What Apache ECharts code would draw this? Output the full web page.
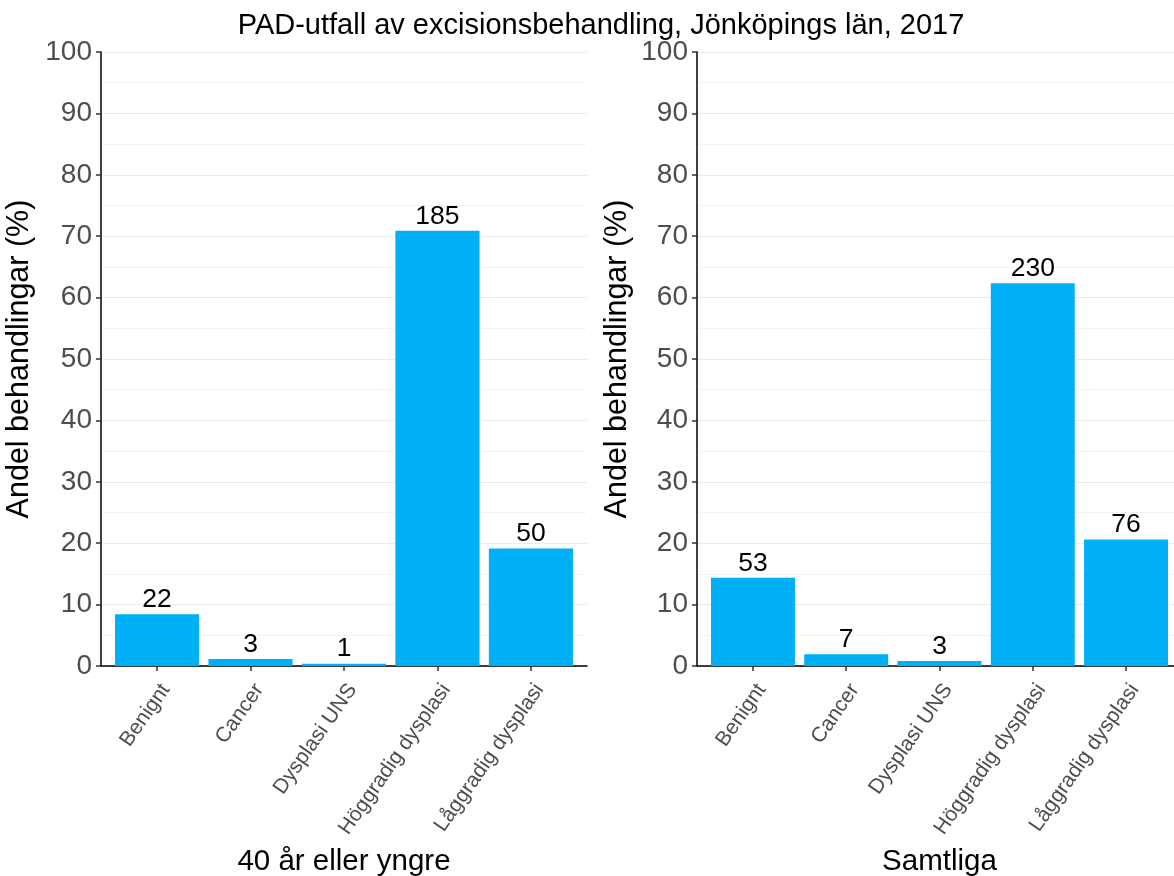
<!DOCTYPE html>
<html>
<head>
<meta charset="utf-8">
<title>PAD-utfall av excisionsbehandling</title>
<script src="https://cdn.jsdelivr.net/npm/echarts@6/dist/echarts.min.js"></script>
<style>
  html, body { margin: 0; padding: 0; background: #ffffff; }
  #chart { width: 1174px; height: 876px; }
</style>
</head>
<body>
<div id="chart"></div>
<script>
// PAD outcome categories (same order in both panels)
const categories = ['Benignt', 'Cancer', 'Dysplasi UNS', 'Höggradig dysplasi', 'Låggradig dysplasi'];

// Number of treatments per outcome
const countsYoung = [22, 3, 1, 185, 50];   // 40 år eller yngre
const countsAll   = [53, 7, 3, 230, 76];   // Samtliga

const yTicks = [0, 10, 20, 30, 40, 50, 60, 70, 80, 90, 100];

const titleText = 'PAD-utfall av excisionsbehandling, Jönköpings län, 2017';
const panelNames = ['40 år eller yngre', 'Samtliga'];
const yAxisTitle = 'Andel behandlingar (%)';

const FONT = '"Liberation Sans", Arial, Helvetica, sans-serif';
const BAR = '#00B0F6';

// share (%) of all treatments in the panel, keeping the count for the label
function shares(counts) {
  const total = counts.reduce((a, b) => a + b, 0);
  return counts.map((c, i) => [i + 1, c / total * 100, c]);
}

const positions = categories.map((_, i) => i + 1);

function xAxisFor(gridIndex, name) {
  return {
    type: 'value', gridIndex: gridIndex,
    min: 0.4, max: 5.6,
    name: name, nameLocation: 'middle', nameGap: 181,
    nameTextStyle: { fontFamily: FONT, fontSize: 29.5, color: '#000000' },
    axisLine: { show: true, onZero: false, lineStyle: { color: '#000000', width: 1.5 } },
    axisTick: { show: true, customValues: positions, length: 5, lineStyle: { color: '#333333', width: 1.5 } },
    axisLabel: {
      show: true, customValues: positions,
      rotate: 55, margin: 14, align: 'right', verticalAlign: 'top',
      fontFamily: FONT, fontSize: 21, color: '#4D4D4D',
      formatter: v => categories[Math.round(v) - 1] || ''
    },
    splitLine: { show: false }
  };
}

function yAxisFor(gridIndex, gap) {
  return {
    type: 'value', gridIndex: gridIndex,
    min: yTicks[0], max: yTicks[yTicks.length - 1], interval: 10,
    name: yAxisTitle, nameLocation: 'middle', nameGap: gap,
    nameTextStyle: { fontFamily: FONT, fontSize: 30.5, color: '#000000' },
    axisLine: { show: true, lineStyle: { color: '#000000', width: 1.5 } },
    axisTick: { show: true, length: 5, lineStyle: { color: '#333333', width: 1.5 } },
    axisLabel: { margin: 9, fontFamily: FONT, fontSize: 28, color: '#4D4D4D' },
    splitLine: { show: true, lineStyle: { color: '#EBEBEB', width: 1.2 } },
    minorTick: { show: false, splitNumber: 2 },
    minorSplitLine: { show: true, lineStyle: { color: '#F3F3F3', width: 1 } }
  };
}

function barSeries(idx, counts) {
  return {
    type: 'bar', xAxisIndex: idx, yAxisIndex: idx,
    data: shares(counts),
    encode: { x: 0, y: 1 },
    barWidth: '90%',
    itemStyle: { color: BAR },
    label: {
      show: true, position: 'top', distance: 1,
      fontFamily: FONT, fontSize: 26.5, color: '#000000',
      formatter: p => String(p.value[2])
    },
    emphasis: { disabled: true },
    silent: true
  };
}

const chart = echarts.init(document.getElementById('chart'), null, { renderer: 'canvas' });
chart.setOption({
  animation: false,
  backgroundColor: '#ffffff',
  title: {
    text: titleText, left: 596, top: 6, textAlign: 'center',
    textStyle: { fontFamily: FONT, fontSize: 29, fontWeight: 'normal', color: '#000000' }
  },
  grid: [
    { left: 101, top: 52, width: 486, height: 614, outerBoundsMode: 'none', containLabel: false },
    { left: 697, top: 52, width: 485, height: 614, outerBoundsMode: 'none', containLabel: false }
  ],
  xAxis: [xAxisFor(0, panelNames[0]), xAxisFor(1, panelNames[1])],
  yAxis: [yAxisFor(0, 66), yAxisFor(1, 64)],
  series: [barSeries(0, countsYoung), barSeries(1, countsAll)]
});
</script>
</body>
</html>
